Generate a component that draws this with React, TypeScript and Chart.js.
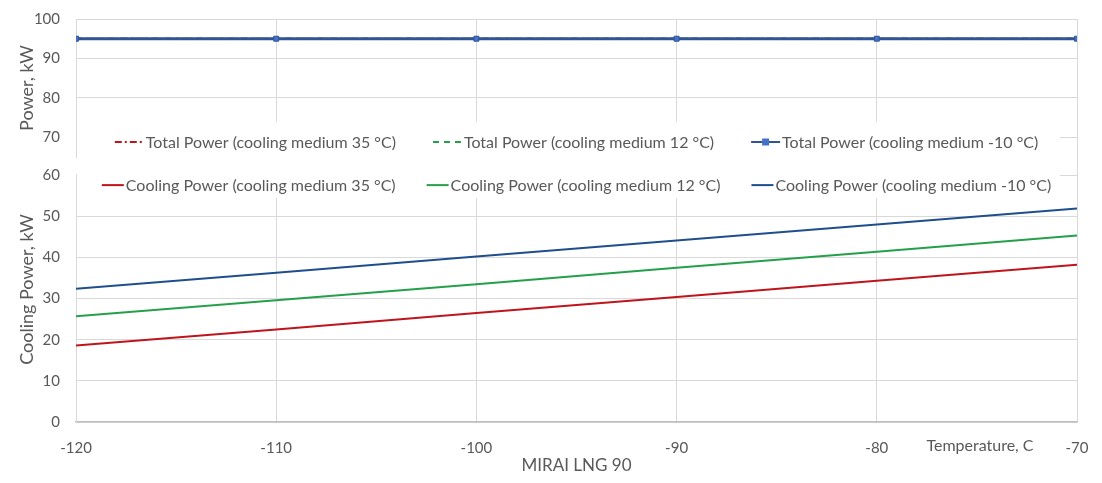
import React, { useEffect, useRef } from 'react';
import { Chart, registerables } from 'chart.js';

Chart.register(...registerables);

// ---- data ----
const temperatures = [-120, -110, -100, -90, -80, -70];
const totalPower35 = [95, 95, 95, 95, 95, 95];
const totalPower12 = [95, 95, 95, 95, 95, 95];
const totalPowerM10 = [95, 95, 95, 95, 95, 95];
const cooling35 = [18.6, 22.5, 26.5, 30.4, 34.3, 38.2];
const cooling12 = [25.7, 29.6, 33.5, 37.5, 41.4, 45.3];
const coolingM10 = [32.4, 36.3, 40.2, 44.1, 48.0, 51.9];
const topTicks = [70, 80, 90, 100];
const bottomTicks = [0, 10, 20, 30, 40, 50, 60];
const xTicks = [-120, -110, -100, -90, -80, -70];
const totalLabels = [
  'Total Power (cooling medium 35 °C)',
  'Total Power (cooling medium 12 °C)',
  'Total Power (cooling medium -10 °C)',
];
const coolingLabels = [
  'Cooling Power (cooling medium 35 °C)',
  'Cooling Power (cooling medium 12 °C)',
  'Cooling Power (cooling medium -10 °C)',
];
const xTitle = 'MIRAI LNG 90';
const xNote = 'Temperature, C';
const yTopTitle = 'Power, kW';
const yBottomTitle = 'Cooling Power, kW';

// ---- styles ----
const FONT = 'Lato, "Open Sans", sans-serif';
const TEXT = '#595959';
const GRID = '#d9d9d9';
const RED = '#C0141C';
const GREEN = '#25A04A';
const BLUE = '#1F4E8C';
const MARK = '#4472C4';
const CLEAR = 'rgba(0,0,0,0)';

const toXY = (ys: number[]) => temperatures.map((x, i) => ({ x, y: ys[i] }));

const legendPlugin = {
  id: 'insideLegends',
  beforeDatasetsDraw(chart: any) {
    const { ctx, chartArea: area } = chart;
    const yTop = chart.scales.yTop;
    const yBot = chart.scales.yBottom;
    const y60 = yBot.getPixelForValue(60);
    ctx.save();
    ctx.fillStyle = '#ffffff';
    ctx.fillRect(area.left + 1, yTop.bottom - 35, area.right - area.left - 18, y60 + 23 - (yTop.bottom - 35));
    // gap in the left axis between the two panels
    ctx.fillRect(area.left - 3, yTop.bottom + 1, 6, y60 - yTop.bottom - 2);

    const cx = (area.left + area.right) / 2;
    const drawRow = (indices: number[], y: number, sample: number, gap: number) => {
      ctx.font = `16px ${FONT}`;
      ctx.textBaseline = 'middle';
      ctx.textAlign = 'left';
      const items = indices.map((i) => {
        const ds = chart.data.datasets[i];
        return { ds, w: ctx.measureText(ds.label).width };
      });
      const pad = 2;
      const total = items.reduce((s, it) => s + sample + pad + it.w, 0) + gap * (items.length - 1);
      let x = cx - total / 2;
      for (const it of items) {
        const ds = it.ds;
        ctx.save();
        ctx.strokeStyle = ds.borderColor;
        ctx.lineWidth = 2;
        ctx.setLineDash(ds.borderDash || []);
        ctx.beginPath();
        ctx.moveTo(x, y);
        ctx.lineTo(x + sample, y);
        ctx.stroke();
        ctx.restore();
        if (ds.pointRadius > 0) {
          const r = ds.pointRadius;
          ctx.fillStyle = ds.pointBackgroundColor;
          ctx.fillRect(x + sample / 2 - r, y - r, 2 * r, 2 * r);
        }
        ctx.fillStyle = TEXT;
        ctx.fillText(ds.label, x + sample + pad, y + 1);
        x += sample + pad + it.w + gap;
      }
    };
    drawRow([0, 1, 2], yTop.bottom - 15, 29, 37);
    drawRow([3, 4, 5], y60 + 10, 22, 31);
    ctx.restore();
  },
  afterDraw(chart: any) {
    const { ctx, chartArea: area } = chart;
    ctx.save();
    ctx.font = `16px ${FONT}`;
    ctx.fillStyle = TEXT;
    ctx.textAlign = 'center';
    ctx.textBaseline = 'middle';
    ctx.fillText(xNote, area.right - 97, area.bottom + 24);
    ctx.restore();
  },
};

export default function App() {
  const ref = useRef<HTMLCanvasElement | null>(null);

  useEffect(() => {
    if (!ref.current) return;
    const tickFont = { family: FONT, size: 15 };
    const yTitleFont = { family: FONT, size: 18 };
    const xTitleFont = { family: FONT, size: 17 };
    const chart = new Chart(ref.current, {
      type: 'line',
      data: {
        datasets: [
          {
            label: totalLabels[0], data: toXY(totalPower35), yAxisID: 'yTop', order: 2,
            borderColor: RED, borderWidth: 2, borderDash: [7, 3, 2, 3], pointRadius: 0,
          },
          {
            label: totalLabels[1], data: toXY(totalPower12), yAxisID: 'yTop', order: 1,
            borderColor: GREEN, borderWidth: 2, borderDash: [6, 5], pointRadius: 0,
          },
          {
            label: totalLabels[2], data: toXY(totalPowerM10), yAxisID: 'yTop', order: 0,
            borderColor: '#2F5597', borderWidth: 3, pointRadius: 3.5, pointStyle: 'rect',
            pointBackgroundColor: MARK, pointBorderColor: '#2F5597', pointBorderWidth: 1,
          },
          {
            label: coolingLabels[0], data: toXY(cooling35), yAxisID: 'yBottom', order: 3,
            borderColor: RED, borderWidth: 2, pointRadius: 0,
          },
          {
            label: coolingLabels[1], data: toXY(cooling12), yAxisID: 'yBottom', order: 4,
            borderColor: GREEN, borderWidth: 2, pointRadius: 0,
          },
          {
            label: coolingLabels[2], data: toXY(coolingM10), yAxisID: 'yBottom', order: 5,
            borderColor: BLUE, borderWidth: 2, pointRadius: 0,
          },
        ],
      },
      options: {
        animation: false,
        responsive: true,
        maintainAspectRatio: false,
        layout: { padding: { top: 19, right: 25, left: 0, bottom: 0 } },
        plugins: { legend: { display: false }, tooltip: { enabled: false } },
        scales: {
          x: {
            type: 'linear',
            min: -120,
            max: -70,
            afterBuildTicks: (s: any) => { s.ticks = xTicks.map((v) => ({ value: v })); },
            ticks: { color: TEXT, font: tickFont, padding: 2, autoSkip: false, maxRotation: 0 },
            grid: { color: GRID, drawTicks: true, tickLength: 15, tickColor: CLEAR },
            border: { color: '#bfbfbf', width: 1.5 },
            title: { display: true, text: xTitle, color: TEXT, font: xTitleFont, padding: { top: 0, bottom: 7 } },
            afterFit: (s: any) => { s.height = 61; },
          },
          yBottom: {
            type: 'linear',
            position: 'left',
            stack: 'panels',
            stackWeight: 265,
            weight: 0,
            min: 0,
            max: 64.4,
            bounds: 'data',
            afterBuildTicks: (s: any) => { s.ticks = bottomTicks.map((v) => ({ value: v })); },
            ticks: { color: TEXT, font: tickFont, padding: 2, autoSkip: false },
            grid: { color: GRID, drawTicks: true, tickLength: 14, tickColor: CLEAR },
            border: { color: GRID },
            title: { display: true, text: yBottomTitle, color: TEXT, font: yTitleFont, padding: { top: 16, bottom: 0 } },
            afterFit: (s: any) => { s.width = 76; },
          },
          yTop: {
            type: 'linear',
            position: 'left',
            stack: 'panels',
            stackWeight: 138,
            weight: 1,
            min: 65,
            max: 100,
            bounds: 'data',
            afterBuildTicks: (s: any) => { s.ticks = topTicks.map((v) => ({ value: v })); },
            ticks: { color: TEXT, font: tickFont, padding: 2, autoSkip: false },
            grid: { color: GRID, drawTicks: true, tickLength: 14, tickColor: CLEAR },
            border: { color: GRID },
            title: { display: true, text: yTopTitle, color: TEXT, font: yTitleFont, padding: { top: 16, bottom: 0 } },
            afterFit: (s: any) => { s.width = 76; },
          },
        },
      },
      plugins: [legendPlugin],
    } as any);
    return () => chart.destroy();
  }, []);

  return (
    <div style={{ position: 'fixed', left: 0, top: 0, width: 1102, height: 483, background: '#fff' }}>
      <canvas ref={ref} />
    </div>
  );
}
